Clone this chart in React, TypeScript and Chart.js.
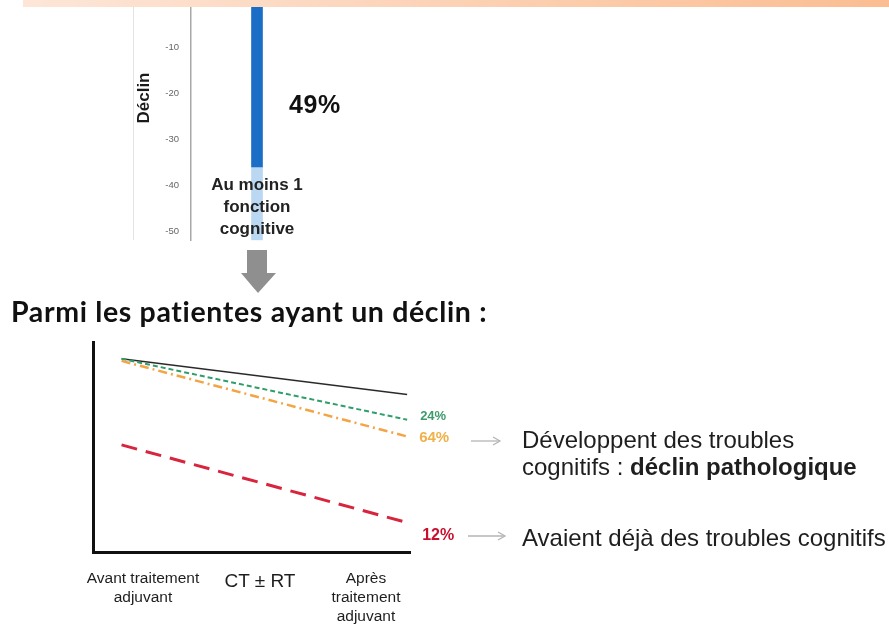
import React, { useEffect, useRef } from "react";
import { Chart, registerables } from "chart.js";

Chart.register(...registerables);

// ---- Top bar (decline on at least one cognitive function) ----
const barCategory = ["Au moins 1 fonction cognitive"];
const barDeclineStrong = [-36];
const barDeclineFaint = [-16];
const barTicks = [-10, -20, -30, -40, -50];
const barShare = "49%";

// ---- Bottom line chart (trajectories) ----
const phaseLabels = [["Avant traitement", "adjuvant"], ["CT ± RT"], ["Après", "traitement", "adjuvant"]];
const phaseX = [0, 2];
const normalAging = [92, 75];
const decline24 = [92, 63];
const decline64 = [91, 55];
const preexisting12 = [51, 14];
const shares = ["24%", "64%", "12%"];

const SANS = '"Liberation Sans", Arial, sans-serif';

const toPts = (ys: number[]) => phaseX.map((x, i) => ({ x, y: ys[i] }));

const endLabels = {
  id: "endLabels",
  afterDatasetsDraw(chart: any) {
    const ctx = chart.ctx;
    chart.data.datasets.forEach((ds: any, i: number) => {
      if (!ds.endLabel) return;
      const meta = chart.getDatasetMeta(i);
      const pt = meta.data[meta.data.length - 1];
      ctx.save();
      ctx.font = ds.endLabelFont;
      ctx.fillStyle = ds.endLabelColor;
      ctx.textBaseline = "middle";
      ctx.textAlign = "left";
      ctx.fillText(ds.endLabel, pt.x + ds.endLabelDx, pt.y + ds.endLabelDy);
      ctx.restore();
    });
  },
};

function BarChart() {
  const ref = useRef<HTMLCanvasElement>(null);
  useEffect(() => {
    const chart = new Chart(ref.current!, {
      type: "bar",
      data: {
        labels: barCategory,
        datasets: [
          { data: barDeclineStrong, backgroundColor: "#1b6ec6", barThickness: 11, stack: "s" } as any,
          { data: barDeclineFaint, backgroundColor: "rgba(120,178,232,0.5)", barThickness: 11, stack: "s" } as any,
        ],
      },
      options: {
        responsive: false,
        animation: false,
        layout: { padding: { top: 1, bottom: 2, left: 0, right: 0 } },
        plugins: { legend: { display: false }, tooltip: { enabled: false } },
        scales: {
          x: { display: false, stacked: true },
          y: {
            stacked: true,
            min: -52,
            max: 0,
            afterFit: (s: any) => {
              s.width = 61;
            },
            afterBuildTicks: (s: any) => {
              s.ticks = barTicks.map((v) => ({ value: v }));
            },
            ticks: { color: "#666", font: { size: 9.5, family: SANS }, padding: 12 },
            grid: { display: false, drawTicks: false },
            border: { display: true, color: "#a8a8a8", width: 1.5 },
          },
        },
      } as any,
    });
    return () => chart.destroy();
  }, []);
  return <canvas ref={ref} width={193} height={274} style={{ position: "absolute", left: 130, top: -16 }} />;
}

function LineChart() {
  const ref = useRef<HTMLCanvasElement>(null);
  useEffect(() => {
    const base = { pointRadius: 0, tension: 0, fill: false };
    const chart = new Chart(ref.current!, {
      type: "line",
      data: {
        datasets: [
          {
            ...base,
            data: toPts(preexisting12),
            borderColor: "#d8243c",
            borderWidth: 3,
            borderDash: [16, 9],
            endLabel: shares[2],
            endLabelColor: "#c8102e",
            endLabelFont: `bold 16px ${SANS}`,
            endLabelDx: 15,
            endLabelDy: 13,
          },
          {
            ...base,
            data: toPts(decline64),
            borderColor: "#f3a445",
            borderWidth: 2.5,
            borderDash: [9, 4, 2, 4],
            endLabel: shares[1],
            endLabelColor: "#f0b04a",
            endLabelFont: `bold 15px ${SANS}`,
            endLabelDx: 12,
            endLabelDy: 1,
          },
          {
            ...base,
            data: toPts(decline24),
            borderColor: "#2f9e6b",
            borderWidth: 2,
            borderDash: [5, 3],
            endLabel: shares[0],
            endLabelColor: "#3d9a6c",
            endLabelFont: `bold 13px ${SANS}`,
            endLabelDx: 13,
            endLabelDy: -3,
          },
          { ...base, data: toPts(normalAging), borderColor: "#2a2a2a", borderWidth: 1.5 },
        ] as any,
      },
      options: {
        responsive: false,
        animation: false,
        layout: { padding: { top: 7, right: 60, left: 0, bottom: 0 } },
        plugins: { legend: { display: false }, tooltip: { enabled: false } },
        scales: {
          x: {
            type: "linear",
            min: -0.2,
            max: 2.02,
            ticks: { display: false },
            grid: { display: false, drawTicks: false },
            border: { display: true, color: "#111", width: 3 },
            afterFit: (s: any) => {
              s.height = 8;
            },
          },
          y: {
            min: 0,
            max: 100,
            ticks: { display: false },
            grid: { display: false, drawTicks: false },
            border: { display: true, color: "#111", width: 3 },
            afterFit: (s: any) => {
              s.width = 13;
            },
          },
        },
      } as any,
      plugins: [endLabels],
    });
    return () => chart.destroy();
  }, []);
  return <canvas ref={ref} width={390} height={225} style={{ position: "absolute", left: 80, top: 335 }} />;
}

const abs = (s: React.CSSProperties): React.CSSProperties => ({ position: "absolute", whiteSpace: "nowrap", ...s });

export default function App() {
  return (
    <div
      style={{
        position: "fixed",
        left: 0,
        top: 0,
        width: 889,
        height: 630,
        background: "#fff",
        overflow: "hidden",
        fontFamily: SANS,
        color: "#1e1e1e",
      }}
    >
      <div style={abs({ left: 133, top: 7, width: 1, height: 233, background: "#e2e2e2" })} />

      <BarChart />
      {/* top banner remnant (drawn over the bar) */}
      <div style={abs({ left: 23, top: 0, width: 866, height: 7, background: "linear-gradient(90deg,#fde6d8,#fbbd92)" })} />
      <div
        style={abs({
          left: 144,
          top: 98,
          transform: "translate(-50%,-50%) rotate(-90deg)",
          fontWeight: 700,
          fontSize: 17,
          color: "#1a1a1a",
        })}
      >
        Déclin
      </div>
      <div style={abs({ left: 289, top: 89, fontWeight: 700, fontSize: 25, letterSpacing: 0.6, lineHeight: "30px", color: "#111" })}>
        {barShare}
      </div>
      <div
        style={abs({
          left: 187,
          top: 174,
          width: 140,
          textAlign: "center",
          fontWeight: 700,
          fontSize: 17,
          lineHeight: "22px",
          color: "#222",
          whiteSpace: "normal",
        })}
      >
        Au moins 1<br />fonction<br />cognitive
      </div>

      {/* grey down arrow */}
      <svg style={{ position: "absolute", left: 0, top: 0 }} width={889} height={630}>
        <polygon points="247,250 267,250 267,273 276,273 258,293 241,273 247,273" fill="#8f8f8f" />
        <g stroke="#b5b5b5" strokeWidth={1.3} fill="none">
          <line x1={471} y1={441} x2={500} y2={441} />
          <polyline points="493,437 500,441 493,445" />
          <line x1={468} y1={536} x2={505} y2={536} />
          <polyline points="498,532 505,536 498,540" />
        </g>
      </svg>

      <div
        style={abs({
          left: 11,
          top: 295,
          fontFamily: "Lato, sans-serif",
          fontWeight: 700,
          fontSize: 28.5,
          letterSpacing: 0.65,
          lineHeight: "32px",
          color: "#111",
        })}
      >
        Parmi les patientes ayant un déclin :
      </div>

      <LineChart />

      {/* x phase labels */}
      <div style={abs({ left: 63, top: 568, width: 160, textAlign: "center", fontSize: 15.5, lineHeight: "19px", whiteSpace: "normal" })}>
        {phaseLabels[0].map((l, i) => (
          <div key={i}>{l}</div>
        ))}
      </div>
      <div style={abs({ left: 200, top: 570, width: 120, textAlign: "center", fontSize: 19, lineHeight: "22px" })}>
        {phaseLabels[1][0]}
      </div>
      <div style={abs({ left: 296, top: 568, width: 140, textAlign: "center", fontSize: 15.5, lineHeight: "19px", whiteSpace: "normal" })}>
        {phaseLabels[2].map((l, i) => (
          <div key={i}>{l}</div>
        ))}
      </div>

      {/* right-hand explanations */}
      <div style={abs({ left: 522, top: 426, fontSize: 24, lineHeight: "27px" })}>
        Développent des troubles
        <br />
        cognitifs : <b>déclin pathologique</b>
      </div>
      <div style={abs({ left: 522, top: 524, fontSize: 24, lineHeight: "27px" })}>Avaient déjà des troubles cognitifs</div>
    </div>
  );
}
